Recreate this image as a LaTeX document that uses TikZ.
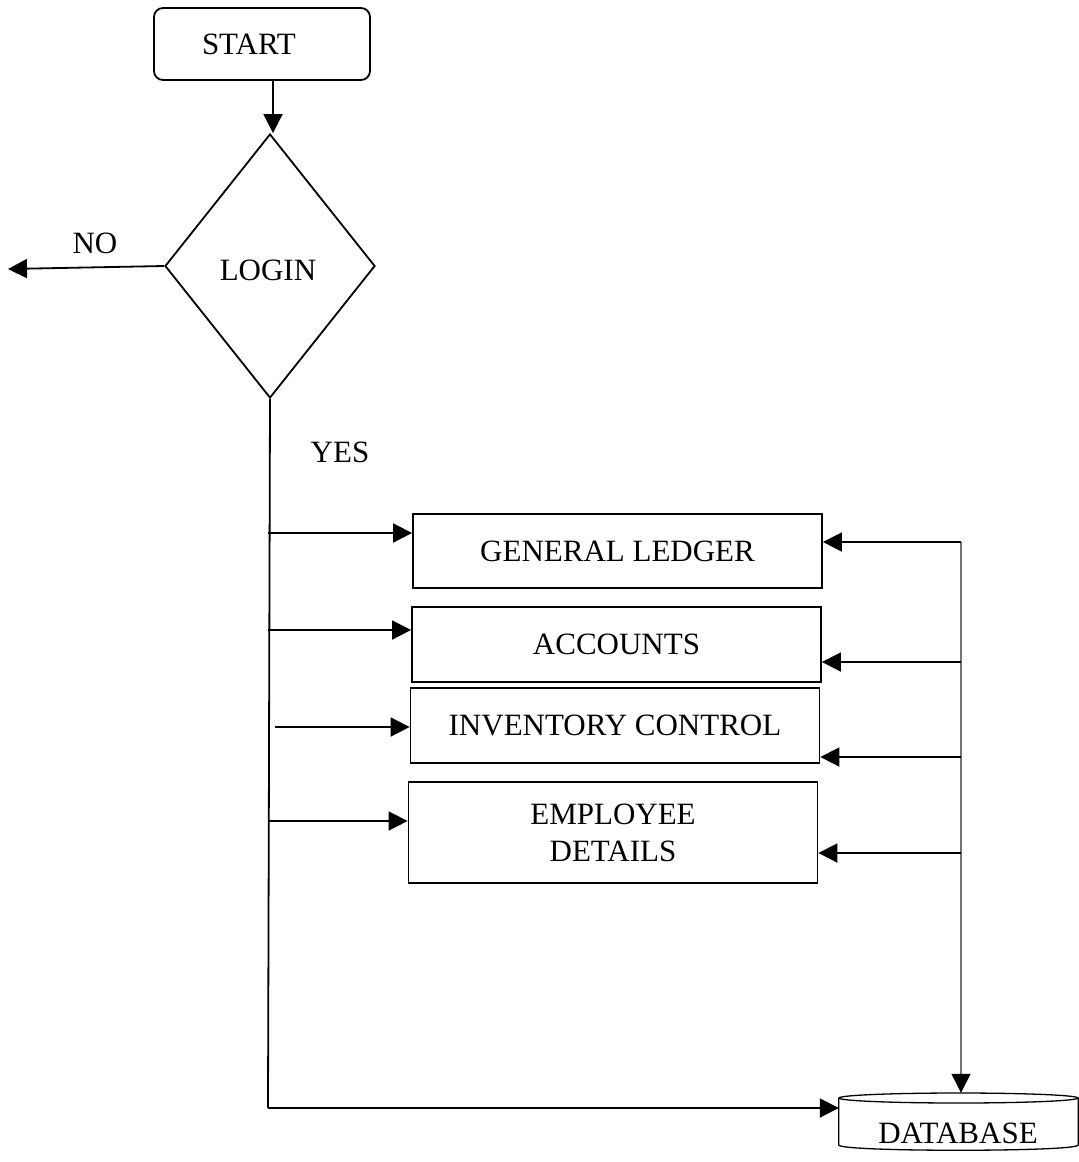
\documentclass[tikz,border=0pt]{standalone}
\usepackage{fontspec}
\setmainfont{Liberation Serif}
\usetikzlibrary{shapes.geometric,arrows.meta}
\begin{document}
\begin{tikzpicture}[x=1pt,y=-1pt,
  every node/.style={font=\fontsize{31}{37}\selectfont},
  line/.style={line width=1.8pt},
  arr/.style={line width=1.8pt, -{Triangle[length=19pt,width=19pt]}},
  bus/.style={line width=1.1pt, draw=black!55},
  busarr/.style={bus, -{Triangle[length=19pt,width=19pt,color=black]}},
  modbox/.style={draw, line width=1.8pt, minimum width=409pt, inner sep=0pt},
  lbl/.style={inner sep=0pt}]
\useasboundingbox (0,0) rectangle (1079,1162);

% start and login decision
\node[draw, line width=1.8pt, rounded corners=9pt, minimum height=72pt,
      inner xsep=48pt, text width=120pt, align=left] (start) at (262,44) {START};
\node[draw, diamond, line width=1.8pt, minimum width=210pt, minimum height=264pt,
      inner sep=0pt] (login) at (270,266) {};
\node[lbl] (logintxt) at (268,270) {LOGIN};
\node[lbl] (no) at (95,243) {NO};
\node[lbl] (yes) at (340,452) {YES};

% module boxes
\node[modbox, minimum height=74pt] (gl)  at (617.5,551)   {GENERAL LEDGER};
\node[modbox, minimum height=75pt] (acc) at (616.5,644.5) {ACCOUNTS};
\node[modbox, minimum height=75pt] (inv) at (615,725.5)   {INVENTORY CONTROL};
\node[modbox, minimum height=101pt, align=center] (emp) at (613,832.5) {EMPLOYEE\\DETAILS};

% database cylinder
\node[minimum width=239pt, minimum height=56pt, inner sep=0pt] (db) at (958.5,1121) {};
\draw[line width=1.3pt] (db.center |- 0,1098) ellipse [x radius=119.5, y radius=5];
\draw[line width=1.3pt] (db.west |- 0,1098) -- (db.west |- 0,1145)
  .. controls (db.west |- 0,1152) and (db.east |- 0,1152) .. (db.east |- 0,1145)
  -- (db.east |- 0,1098);
\node[lbl] (dbtxt) at (958,1133) {DATABASE};

% flow from start into login and the rejected branch
\coordinate (s0) at (273,80);
\coordinate (noend) at (8,269);
\draw[arr] (s0) -- (s0 |- login.north);
\draw[arr] (login.west) -- (noend);

% trunk from login down to the database
\coordinate (t1) at (268,533);
\coordinate (t2) at (268,630);
\coordinate (t3) at (275,727);
\coordinate (t4) at (268,821);
\coordinate (tb) at (268,1108);
\draw[line] (login.south) -- (tb);
\draw[arr] (tb) -- (tb -| db.west);
\draw[arr] (t1) -- (t1 -| gl.west);
\draw[arr] (t2) -- (t2 -| acc.west);
\draw[arr] (t3) -- (t3 -| inv.west);
\draw[arr] (t4) -- (t4 -| emp.west);

% database bus feeding every module
\coordinate (r1) at (961,542);
\coordinate (r2) at (961,662);
\coordinate (r3) at (961,757);
\coordinate (r4) at (961,853);
\draw[busarr] (r1) -- (r1 |- db.north);
\draw[arr] (r1) -- (r1 -| gl.east);
\draw[arr] (r2) -- (r2 -| acc.east);
\draw[arr] (r3) -- (r3 -| inv.east);
\draw[arr] (r4) -- (r4 -| emp.east);
\end{tikzpicture}
\end{document}
